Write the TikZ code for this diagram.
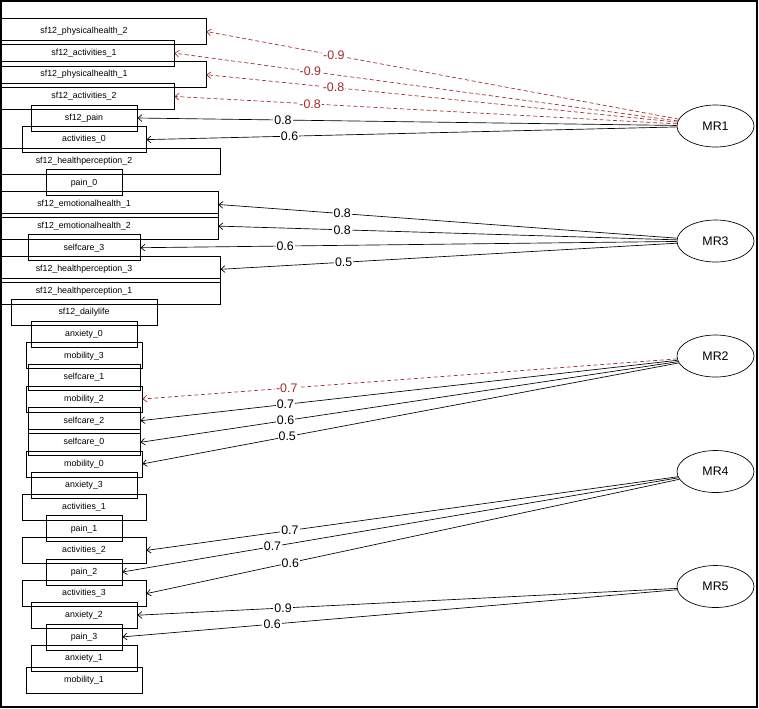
\documentclass[tikz,border=0pt]{standalone}
\usepackage{fontspec}
\setmainfont{Liberation Sans}
\usetikzlibrary{shapes.geometric,arrows.meta}
\definecolor{negred}{RGB}{165,42,42}
\begin{document}
\begin{tikzpicture}[x=0.75pt,y=-0.75pt,
 itembox/.style={draw=black, line width=0.6pt, minimum height=19.5pt, inner sep=0pt, font=\fontsize{6.6}{7}\selectfont},
 factor/.style={ellipse, draw=black, line width=0.5pt, minimum width=57.75pt, minimum height=31.5pt, inner sep=0pt, font=\fontsize{9.3}{10}\selectfont},
 load/.style={line width=0.5pt, draw=black, -{Straight Barb[length=3pt,width=5pt]}},
 neg/.style={load, draw=negred, dash pattern=on 3pt off 2pt},
 lbl/.style={fill=white, inner sep=0.8pt, font=\fontsize{9.3}{10}\selectfont, pos=0.73},
 neglbl/.style={lbl, text=negred}]
\useasboundingbox (0,0) rectangle (759,708);
\clip (0,0) rectangle (759,708);
\draw[line width=0.8pt] (1,1) rectangle (757,707);
% item boxes
\node[itembox, minimum width=183pt]   (ph2)  at (84,31.5)  {sf12\_physicalhealth\_2};
\node[itembox, minimum width=135pt]   (sa1)  at (84,53.1)  {sf12\_activities\_1};
\node[itembox, minimum width=183pt]   (ph1)  at (84,74.7)  {sf12\_physicalhealth\_1};
\node[itembox, minimum width=135pt]   (sa2)  at (84,96.4)  {sf12\_activities\_2};
\node[itembox, minimum width=79.5pt]  (spain) at (84,118.0) {sf12\_pain};
\node[itembox, minimum width=93pt]    (act0) at (84,139.6) {activities\_0};
\node[itembox, minimum width=204pt]   (hp2)  at (84,161.2) {sf12\_healthperception\_2};
\node[itembox, minimum width=57pt]    (pain0) at (84,182.8) {pain\_0};
\node[itembox, minimum width=201pt]   (eh1)  at (84,204.5) {sf12\_emotionalhealth\_1};
\node[itembox, minimum width=201pt]   (eh2)  at (84,226.1) {sf12\_emotionalhealth\_2};
\node[itembox, minimum width=84pt]    (sc3)  at (84,247.7) {selfcare\_3};
\node[itembox, minimum width=204pt]   (hp3)  at (84,269.3) {sf12\_healthperception\_3};
\node[itembox, minimum width=204pt]   (hp1)  at (84,290.9) {sf12\_healthperception\_1};
\node[itembox, minimum width=109.5pt] (dl)   at (84,312.6) {sf12\_dailylife};
\node[itembox, minimum width=79.5pt]  (anx0) at (84,334.2) {anxiety\_0};
\node[itembox, minimum width=87pt]    (mob3) at (84,355.8) {mobility\_3};
\node[itembox, minimum width=84pt]    (sc1)  at (84,377.4) {selfcare\_1};
\node[itembox, minimum width=87pt]    (mob2) at (84,399.0) {mobility\_2};
\node[itembox, minimum width=84pt]    (sc2)  at (84,420.7) {selfcare\_2};
\node[itembox, minimum width=84pt]    (sc0)  at (84,442.3) {selfcare\_0};
\node[itembox, minimum width=87pt]    (mob0) at (84,463.9) {mobility\_0};
\node[itembox, minimum width=79.5pt]  (anx3) at (84,485.5) {anxiety\_3};
\node[itembox, minimum width=93pt]    (act1) at (84,507.1) {activities\_1};
\node[itembox, minimum width=57pt]    (pain1) at (84,528.8) {pain\_1};
\node[itembox, minimum width=93pt]    (act2) at (84,550.4) {activities\_2};
\node[itembox, minimum width=57pt]    (pain2) at (84,572.0) {pain\_2};
\node[itembox, minimum width=93pt]    (act3) at (84,593.6) {activities\_3};
\node[itembox, minimum width=79.5pt]  (anx2) at (84,615.2) {anxiety\_2};
\node[itembox, minimum width=57pt]    (pain3) at (84,636.9) {pain\_3};
\node[itembox, minimum width=79.5pt]  (anx1) at (84,658.5) {anxiety\_1};
\node[itembox, minimum width=87pt]    (mob1) at (84,680.1) {mobility\_1};
% factors
\node[factor] (MR1) at (715.5,126)   {MR1};
\node[factor] (MR3) at (715.5,241)   {MR3};
\node[factor] (MR2) at (715.5,356)   {MR2};
\node[factor] (MR4) at (715.5,471.5) {MR4};
\node[factor] (MR5) at (715.5,586.5) {MR5};
% loadings MR1
\draw[neg]  (MR1) -- node[neglbl] {-0.9} (ph2.east);
\draw[neg]  (MR1) -- node[neglbl] {-0.9} (sa1.east);
\draw[neg]  (MR1) -- node[neglbl] {-0.8} (ph1.east);
\draw[neg]  (MR1) -- node[neglbl] {-0.8} (sa2.east);
\draw[load] (MR1) -- node[lbl] {0.8} (spain.east);
\draw[load] (MR1) -- node[lbl] {0.6} (act0.east);
% MR3
\draw[load] (MR3) -- node[lbl] {0.8} (eh1.east);
\draw[load] (MR3) -- node[lbl] {0.8} (eh2.east);
\draw[load] (MR3) -- node[lbl] {0.6} (sc3.east);
\draw[load] (MR3) -- node[lbl] {0.5} (hp3.east);
% MR2
\draw[neg]  (MR2) -- node[neglbl] {-0.7} (mob2.east);
\draw[load] (MR2) -- node[lbl] {0.7} (sc2.east);
\draw[load] (MR2) -- node[lbl] {0.6} (sc0.east);
\draw[load] (MR2) -- node[lbl] {0.5} (mob0.east);
% MR4
\draw[load] (MR4) -- node[lbl] {0.7} (act2.east);
\draw[load] (MR4) -- node[lbl] {0.7} (pain2.east);
\draw[load] (MR4) -- node[lbl] {0.6} (act3.east);
% MR5
\draw[load] (MR5) -- node[lbl] {0.9} (anx2.east);
\draw[load] (MR5) -- node[lbl] {0.6} (pain3.east);
\end{tikzpicture}
\end{document}
